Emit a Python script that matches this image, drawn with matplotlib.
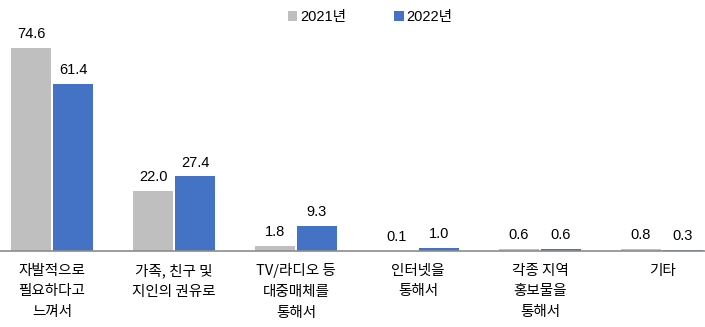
import numpy as np
import matplotlib.pyplot as plt

plt.rcParams['font.family'] = ['Liberation Sans', 'Noto Sans CJK KR', 'DejaVu Sans']

categories = ['자발적으로\n필요하다고\n느껴서', '가족, 친구 및\n지인의 권유로', 'TV/라디오 등\n대중매체를\n통해서',
              '인터넷을\n통해서', '각종 지역\n홍보물을\n통해서', '기타']
vals_2021 = [74.6, 22.0, 1.8, 0.1, 0.6, 0.8]
vals_2022 = [61.4, 27.4, 9.3, 1.0, 0.6, 0.3]
series_names = ['2021년', '2022년']
colors = ['#BFBFBF', '#4472C4']

fig = plt.figure(figsize=(7.05, 3.27), dpi=100)
# axes spans full width; bottom at baseline y=251px
ax = fig.add_axes([0, (327 - 251) / 327, 1, 231 / 327])

x = np.arange(len(categories))
w = 0.335
off = 0.172
b1 = ax.bar(x - off, vals_2021, w, color=colors[0], label=series_names[0])
b2 = ax.bar(x + off, vals_2022, w, color=colors[1], label=series_names[1])

for bars, vals in [(b1, vals_2021), (b2, vals_2022)]:
    for r, v in zip(bars, vals):
        ax.annotate(f'{v:.1f}', (r.get_x() + r.get_width() / 2, v), xytext=(0, 5),
                    textcoords='offset points', ha='center', va='bottom', fontsize=10.5)

ax.set_xlim(-52 / 122, (705 - 52) / 122)
ax.set_ylim(0, 231 / 2.72)
ax.set_xticks(x)
ax.set_xticklabels(categories, fontsize=10.5, linespacing=1.6, family=['Noto Sans CJK KR'])
ax.tick_params(axis='x', length=0, pad=9)
ax.set_yticks([])
for s in ['top', 'right', 'left']:
    ax.spines[s].set_visible(False)
ax.spines['bottom'].set_color('#8C8C8C')
ax.spines['bottom'].set_linewidth(1.2)

fig.legend(loc='upper center', bbox_to_anchor=(0.525, 1.01), ncol=2, frameon=False,
           handlelength=0.65, handleheight=0.65, handletextpad=0.2, columnspacing=3.3,
           fontsize=10.5)

fig.savefig('out.png', dpi=100)
